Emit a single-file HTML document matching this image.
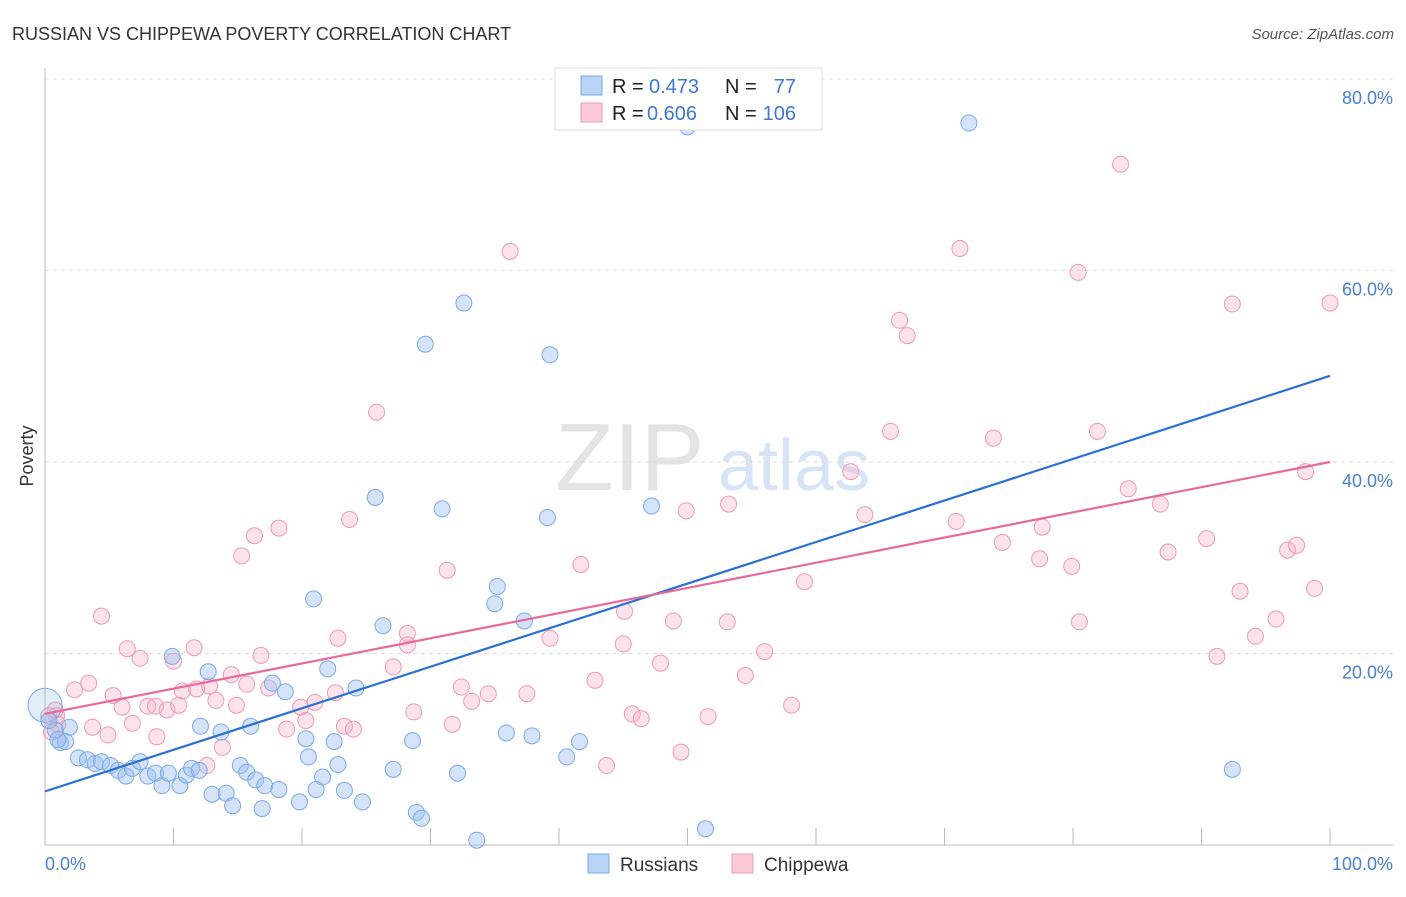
<!DOCTYPE html>
<html><head><meta charset="utf-8"><style>
body{margin:0;background:#fff;font-family:"Liberation Sans",sans-serif;}
svg text{font-family:"Liberation Sans",sans-serif;}
</style></head><body>
<svg id="c" width="1406" height="892" xmlns="http://www.w3.org/2000/svg">
<text x="12" y="40" font-size="18" fill="#333">RUSSIAN VS CHIPPEWA POVERTY CORRELATION CHART</text>
<text x="1394" y="39" font-size="15" fill="#555" font-style="italic" text-anchor="end">Source: ZipAtlas.com</text>
<text transform="translate(33,456) rotate(-90)" font-size="18" fill="#333" text-anchor="middle">Poverty</text>
<g><text x="555" y="490" font-size="96" fill="#e4e4e4" font-family="Liberation Serif,serif">ZIP</text><text x="718" y="490" font-size="72" fill="#d6e4f6">atlas</text></g>
<g id="grid"></g>
<g id="pts"></g>
<g id="lines"></g>
<g>
<rect x="555" y="68" width="267" height="62" fill="#fff" stroke="#ddd"/>
<rect x="581" y="76" width="21" height="19" fill="#b9d3f5" stroke="#7aaae6"/>
<rect x="581" y="103" width="21" height="19" fill="#fcc9d8" stroke="#eb9ab5"/>
<g font-size="20">
<text x="612" y="93" fill="#222">R =</text><text x="649" y="93" fill="#3f78d4">0.473</text><text x="725" y="93" fill="#222">N =</text><text x="796" y="93" fill="#3f78d4" text-anchor="end">77</text></g>
<g font-size="20">
<text x="612" y="120" fill="#222">R =</text><text x="647" y="120" fill="#3f78d4">0.606</text><text x="725" y="120" fill="#222">N =</text><text x="796" y="120" fill="#3f78d4" text-anchor="end">106</text></g>
</g>
<text x="45" y="870" font-size="18" fill="#4a7fd4">0.0%</text>
<text x="1393" y="870" font-size="18" fill="#4a7fd4" text-anchor="end">100.0%</text>
<g>
<rect x="588" y="854" width="21" height="19" fill="#b9d3f5" stroke="#7aaae6"/>
<text x="620" y="871" font-size="19" fill="#333">Russians</text>
<rect x="732" y="854" width="21" height="19" fill="#fcc9d8" stroke="#eb9ab5"/>
<text x="764" y="871" font-size="19" fill="#333">Chippewa</text>
</g>
</svg>
<script>
const yTicks=[20,40,60,80];
const yTickLabels=["20.0%","40.0%","60.0%","80.0%"];
const xTicks=[0,10,20,30,40,50,60,70,80,90,100];
const russX=[50.0,71.9,32.6,29.6,39.3,25.7,30.9,39.1,47.2,20.9,35.2,35.0,26.3,37.3,9.9,12.7,22.0,17.7,18.7,24.2,12.1,13.7,16.0,20.3,22.5,28.6,35.9,37.9,41.6,40.6,20.5,22.8,21.6,27.1,32.1,92.4,1.9,1.2,1.6,2.6,3.3,3.9,4.4,5.1,5.7,6.3,6.8,7.4,8.0,8.6,9.1,9.6,10.5,11.0,11.4,12.0,13.0,14.1,14.6,15.2,15.7,16.4,17.1,18.2,16.9,19.8,21.1,23.3,24.7,28.9,29.3,33.6,51.4,0,0.8,0.3,1.0];
const russY=[75.0,75.4,56.6,52.3,51.2,36.3,35.1,34.2,35.4,25.7,27.0,25.2,22.9,23.4,19.7,18.1,18.4,16.9,16.0,16.4,12.4,11.8,12.4,11.1,10.8,10.9,11.7,11.4,10.8,9.2,9.2,8.4,7.1,7.9,7.5,7.9,12.3,10.7,10.8,9.1,8.9,8.5,8.7,8.3,7.8,7.2,8.0,8.7,7.2,7.5,6.2,7.5,6.2,7.3,8.0,7.8,5.3,5.4,4.1,8.3,7.6,6.8,6.2,5.8,3.8,4.5,5.8,5.7,4.5,3.4,2.8,0.5,1.7,14.6,12.0,13.0,11.0];
const chipX=[83.7,36.2,71.2,80.4,92.4,100,66.5,67.1,25.8,65.8,73.8,81.9,62.7,98.1,84.3,86.8,53.2,49.9,63.8,70.9,77.6,23.7,18.2,16.3,15.3,31.3,41.7,74.5,90.4,87.4,96.7,97.4,77.4,79.9,59.1,98.8,93.0,4.4,45.1,95.8,80.5,48.9,53.1,94.2,22.8,39.3,28.2,45.0,6.4,11.6,16.8,7.4,10.0,28.2,47.9,56.0,27.1,91.2,54.5,42.8,14.5,12.8,10.7,11.8,17.4,15.7,22.6,32.4,34.5,37.5,3.4,2.3,5.3,13.3,14.9,21.0,19.9,6.0,8.0,8.6,9.5,10.4,28.7,33.2,45.7,46.4,51.6,58.1,20.3,23.3,24.0,31.7,3.7,6.8,18.8,0.9,1.0,0.5,8.7,4.9,13.8,49.5,12.6,43.7,0.8,0.3];
const chipY=[71.1,62.0,62.3,59.8,56.5,56.6,54.8,53.2,45.2,43.2,42.5,43.2,39.0,39.0,37.2,35.6,35.6,34.9,34.5,33.8,33.2,34.0,33.1,32.3,30.2,28.7,29.3,31.6,32.0,30.6,30.8,31.3,29.9,29.1,27.5,26.8,26.5,23.9,24.4,23.6,23.3,23.4,23.3,21.8,21.6,21.6,22.1,21.0,20.5,20.6,19.8,19.5,19.2,20.9,19.0,20.2,18.6,19.7,17.7,17.2,17.8,16.6,16.1,16.3,16.4,16.8,15.9,16.5,15.8,15.8,16.9,16.2,15.6,15.1,14.6,14.9,14.4,14.4,14.5,14.5,14.1,14.6,13.9,15.0,13.7,13.2,13.4,14.6,13.0,12.4,12.1,12.6,12.3,12.7,12.1,13.5,12.6,11.8,11.3,11.5,10.2,9.7,8.3,8.3,14.1,13.5];
const russTrend=[5.6,49.0];
const chipTrend=[13.7,40.0];
const NS="http://www.w3.org/2000/svg";
const X=v=>45+v*12.85, Y=v=>845-v*9.575;
function mk(t,a,p){const e=document.createElementNS(NS,t);for(const k in a)e.setAttribute(k,a[k]);p.appendChild(e);return e;}
const g=document.getElementById('grid');
yTicks.forEach((t,i)=>{
 const l=mk('line',{x1:45,x2:1393,y1:Y(t),y2:Y(t),stroke:'#ddd','stroke-dasharray':'4,4'},g);
 
 
 const tx=mk('text',{x:1393,y:Y(t)+25,'font-size':18,fill:'#4a7fd4','text-anchor':'end'},g);
 tx.textContent=yTickLabels[i];
 
 
});
const ax=mk('line',{x1:45,x2:1393,y1:845,y2:845,stroke:'#bbb'},g);


const ay=mk('line',{x1:45,x2:45,y1:68,y2:845,stroke:'#bbb'},g);


xTicks.forEach(t=>{
 const l=mk('line',{x1:X(t),x2:X(t),y1:828,y2:845,stroke:'#bbb'},g);
 
 
});
const p=document.getElementById('pts');
chipX.forEach((v,i)=>{
 const c=mk('circle',{cx:X(v),cy:Y(chipY[i]),r:8,fill:'rgba(246,176,198,0.35)',stroke:'#eb9ab5','stroke-width':1},p);
 
 
});
russX.forEach((v,i)=>{
 const big=i==73;
 const c=mk('circle',{cx:X(v),cy:Y(russY[i]),r:(big?17:8),fill:big?'rgba(160,194,240,0.3)':'rgba(160,194,240,0.45)',stroke:'#7aaae6','stroke-width':1},p);
 
 
});
const L=document.getElementById('lines');
const lb=mk('line',{x1:X(0),y1:Y(russTrend[0]),x2:X(100),y2:Y(russTrend[1]),stroke:'#2a6fd6','stroke-width':2.2},L);


const lp=mk('line',{x1:X(0),y1:Y(chipTrend[0]),x2:X(100),y2:Y(chipTrend[1]),stroke:'#e8699a','stroke-width':2.2},L);


</script>
</body></html>
